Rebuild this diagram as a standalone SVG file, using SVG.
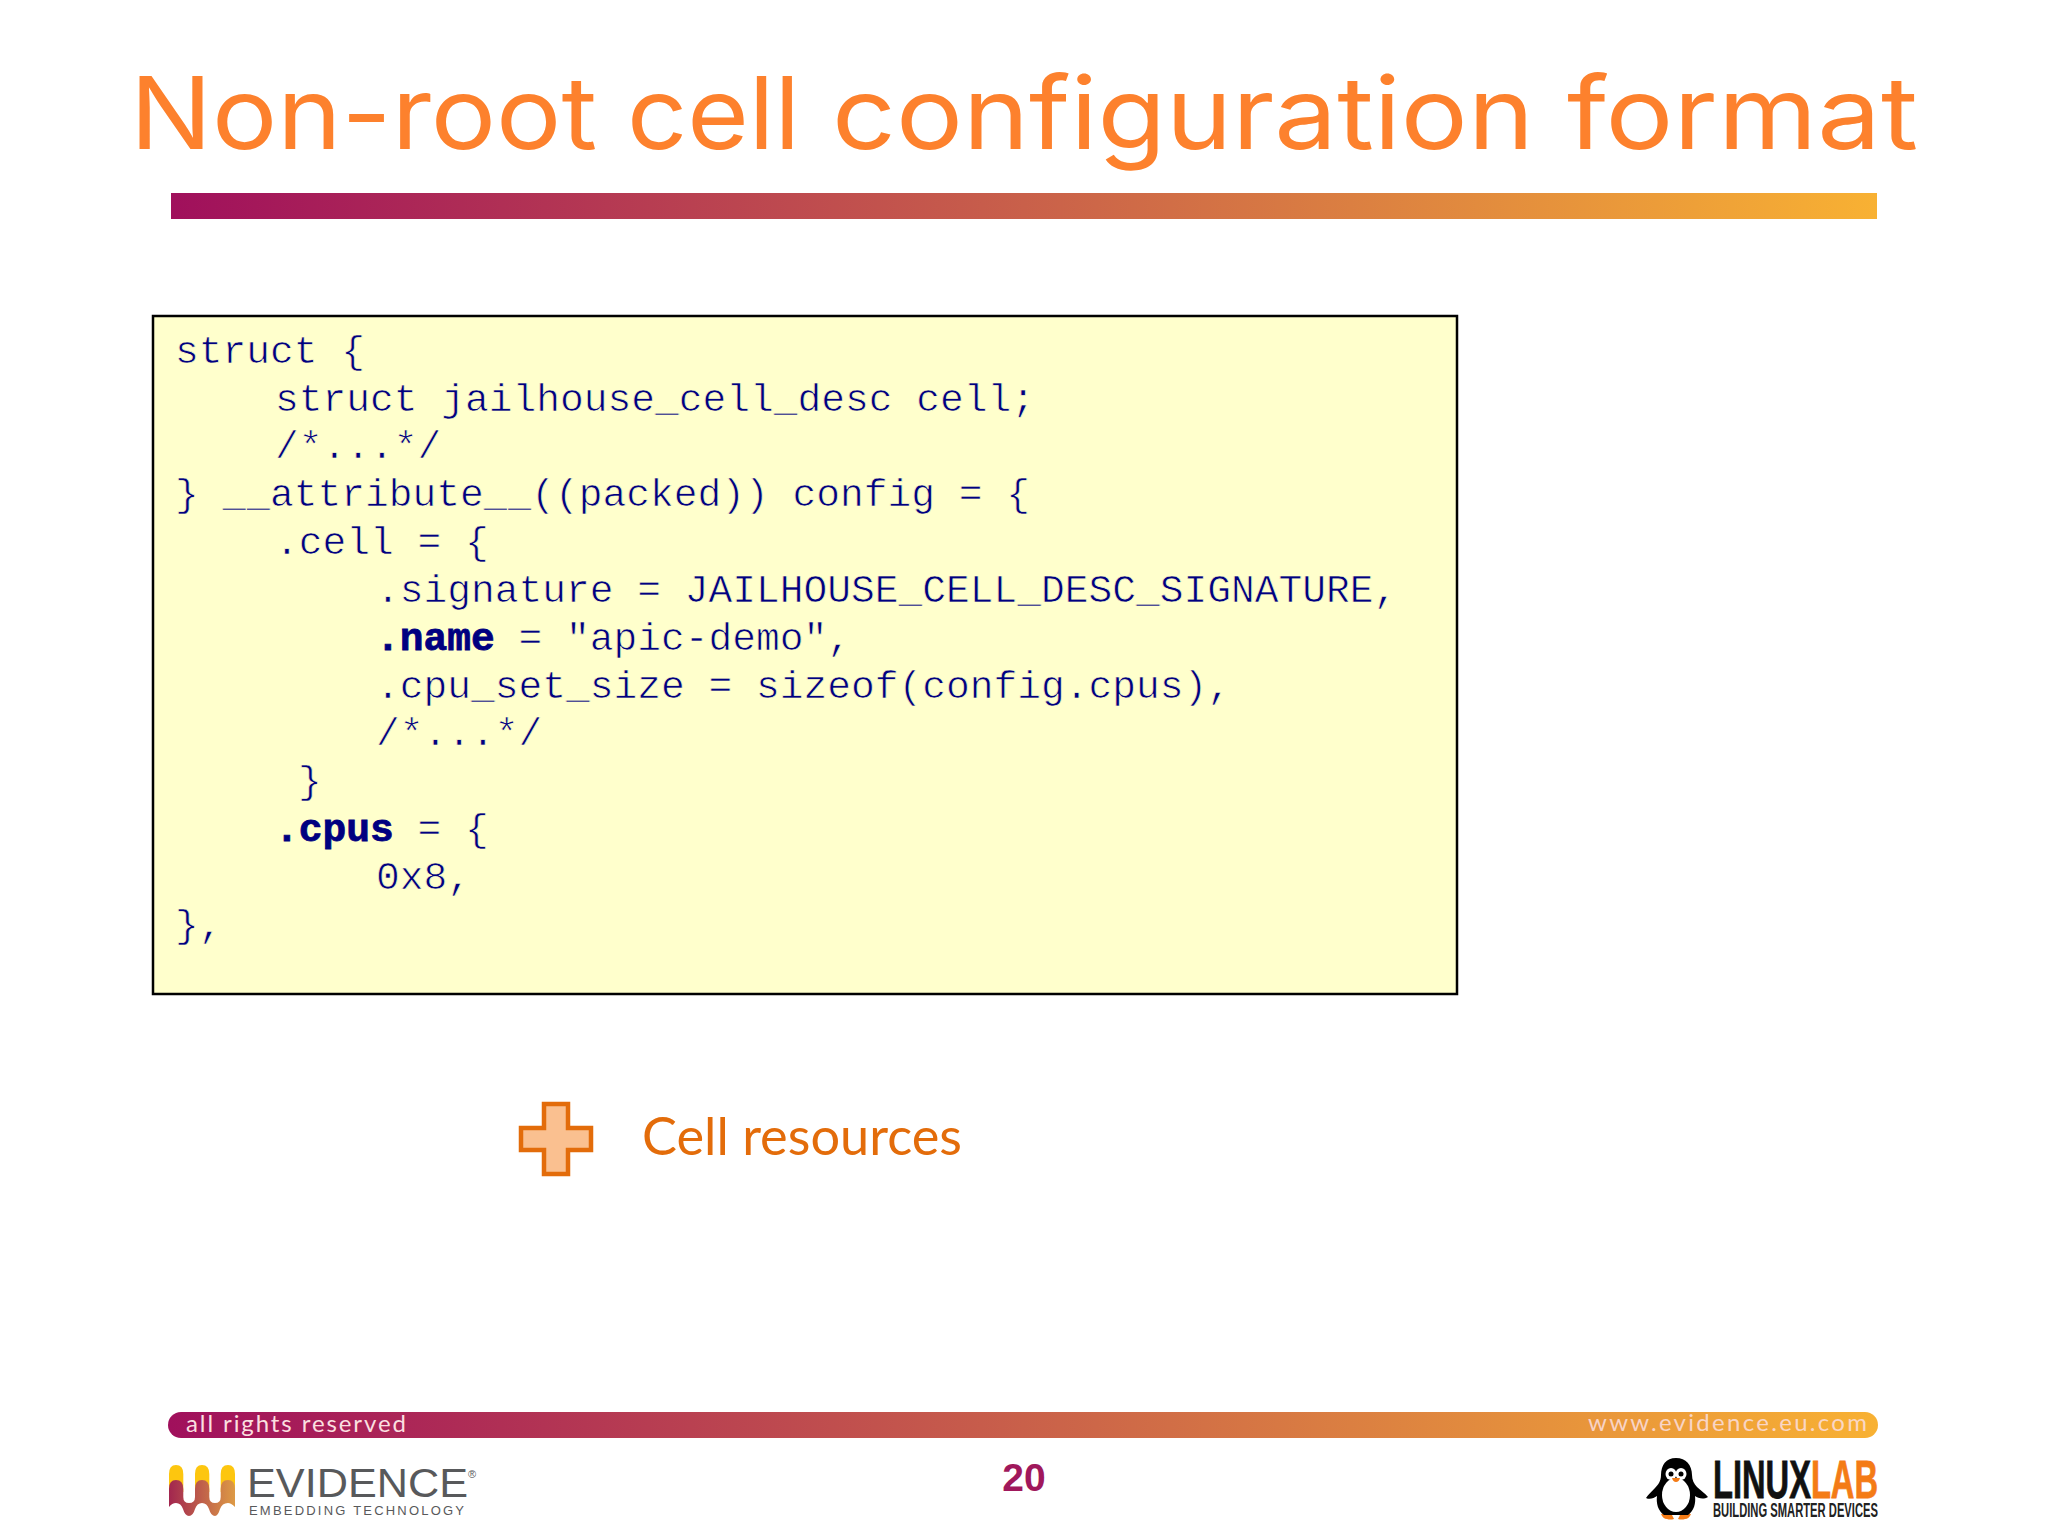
<svg xmlns="http://www.w3.org/2000/svg" width="2048" height="1536" viewBox="0 0 2048 1536">
<style>
.code{font-family:"Liberation Mono",monospace;font-size:39.6px;fill:#000080;stroke:#ffffcc;stroke-width:.7px;white-space:pre}
.b{font-weight:700;stroke:#000080;stroke-width:.8px}
.foot{font-family:"Lato","Liberation Sans",sans-serif;fill:#fbdfe0;letter-spacing:1px}
.grey{font-family:"Liberation Sans",sans-serif;fill:#58595b}
.cond{font-family:"Liberation Sans",sans-serif;font-weight:700}
</style>
<defs>
<linearGradient id="bar" x1="0" x2="1" y1="0" y2="0"><stop offset="0" stop-color="#a0105c"/><stop offset=".5" stop-color="#c9604a"/><stop offset="1" stop-color="#f8b133"/></linearGradient>
<linearGradient id="wave" x1="0" x2="1" y1="0" y2="0"><stop offset="0" stop-color="#a2264f"/><stop offset="1" stop-color="#dd9a45"/></linearGradient>
</defs>
<rect width="2048" height="1536" fill="#fff"/>
<g id="title">
<text y="149" font-family="Inter,'Open Sans',sans-serif" font-size="100" fill="#fd812d" lengthAdjust="spacingAndGlyphs"><tspan x="130" textLength="467" lengthAdjust="spacingAndGlyphs">Non-root</tspan> <tspan x="627" textLength="173" lengthAdjust="spacingAndGlyphs">cell</tspan> <tspan x="832" textLength="702" lengthAdjust="spacingAndGlyphs">configuration</tspan> <tspan x="1567" textLength="351" lengthAdjust="spacingAndGlyphs">format</tspan></text>
<rect x="171" y="193" width="1706" height="26" fill="url(#bar)"/>
</g>
<g id="code-box">
<rect x="153" y="316" width="1304" height="678" fill="#ffffcc" stroke="#000" stroke-width="2.5"/>
<text class="code" x="175" y="363">struct {</text>
<text class="code" x="275" y="411">struct jailhouse_cell_desc cell;</text>
<text class="code" x="275" y="458">/*...*/</text>
<text class="code" x="175" y="506">} __attribute__((packed)) config = {</text>
<text class="code" x="275" y="554">.cell = {</text>
<text class="code" x="376" y="602">.signature = JAILHOUSE_CELL_DESC_SIGNATURE,</text>
<text class="code" x="376" y="650"><tspan class="b">.name</tspan> = "apic-demo",</text>
<text class="code" x="376" y="698">.cpu_set_size = sizeof(config.cpus),</text>
<text class="code" x="376" y="745">/*...*/</text>
<text class="code" x="298" y="793">}</text>
<text class="code" x="275" y="841"><tspan class="b">.cpus</tspan> = {</text>
<text class="code" x="376" y="889">0x8,</text>
<text class="code" x="175" y="937">},</text>
</g>
<g id="cell-resources">
<path d="M544 1104H568V1128H591V1150H568V1174H544V1150H521V1128H544Z" fill="#fac090" stroke="#e36c0a" stroke-width="4.5"/>
<text x="642" y="1155" font-family="Lato,sans-serif" font-size="52" fill="#e36c0a" textLength="320" lengthAdjust="spacingAndGlyphs">Cell resources</text>
</g>
<g id="footer-bar">
<rect x="168" y="1412" width="1710" height="26" rx="13" fill="url(#bar)"/>
<text class="foot" x="186" y="1432" font-size="24" textLength="221">all rights reserved</text>
<text class="foot" x="1588" y="1431" font-size="24" textLength="280" fill-opacity=".85">www.evidence.eu.com</text>
</g>
<g id="evidence-logo">
<path d="M169 1492V1474Q169 1465 176 1465Q183.300 1465 183.300 1474V1492ZM195 1492V1474Q195 1465 202 1465Q209.300 1465 209.300 1474V1492ZM220.700 1492V1474Q220.700 1465 228 1465Q235 1465 235 1474V1492Z" fill="#fdc60f"/>
<path d="M169 1507V1489Q169 1480 176 1480Q183.300 1480 183.300 1489V1497Q183.300 1503 189 1503Q195 1503 195 1497V1489Q195 1480 202 1480Q209.300 1480 209.300 1489V1497Q209.300 1503 215 1503Q220.700 1503 220.700 1497V1489Q220.700 1480 228 1480Q235 1480 235 1489V1507Q231 1503 228 1503Q222 1503 220 1509Q218 1516 215 1516Q211 1516 209 1509Q207 1503 202 1503Q197 1503 195 1509Q193 1516 189 1516Q185 1516 183 1509Q181 1503 176 1503Q172 1503 169 1507Z" fill="url(#wave)"/>
<text class="grey" x="247" y="1497" font-size="41" textLength="221" lengthAdjust="spacingAndGlyphs">EVIDENCE</text>
<text class="grey" x="472" y="1478" font-size="11" text-anchor="middle">®</text>
<text class="grey" x="249" y="1515" font-size="13" textLength="215" fill="#77787b">EMBEDDING TECHNOLOGY</text>
</g>
<g id="page-number">
<text x="1024" y="1491" text-anchor="middle" font-family="'Liberation Sans',sans-serif" font-weight="700" font-size="39" fill="#a0185c">20</text>
</g>
<g id="linuxlab-logo">
<path d="M1661 1514Q1667 1512 1672 1515L1674 1519Q1670 1520 1667 1519Q1663 1519 1661 1514ZM1691 1514Q1685 1512 1680 1515L1678 1519Q1682 1520 1685 1519Q1689 1519 1691 1514Z" fill="#f47b16"/>
<path d="M1676 1458C1666 1458 1661 1465 1661 1475C1661 1481 1658 1485 1655 1488C1652 1491 1648 1495 1646 1498C1650 1500 1654 1498 1657 1496C1656 1503 1658 1511 1664 1515L1688 1515C1694 1511 1696 1503 1695 1496C1698 1498 1703 1500 1708 1497C1705 1493 1700 1490 1697 1487C1694 1484 1692 1480 1692 1475C1692 1465 1686 1458 1676 1458Z" fill="#000"/>
<ellipse cx="1676" cy="1495" rx="14" ry="17" fill="#fff"/>
<ellipse cx="1671" cy="1474" rx="5.500" ry="6" fill="#fff"/>
<ellipse cx="1681" cy="1474" rx="5.500" ry="6" fill="#fff"/>
<circle cx="1671" cy="1474" r="2.500" fill="#000"/>
<circle cx="1681" cy="1474" r="2.500" fill="#000"/>
<path d="M1672 1478H1680Q1679 1482 1676 1482Q1673 1482 1672 1478Z" fill="#f47b16"/>
<text class="cond" x="1713" y="1498" font-size="53" textLength="165" lengthAdjust="spacingAndGlyphs"><tspan fill="#111" stroke="#111" stroke-width=".8">LINUX</tspan><tspan fill="#f47b16" stroke="#f47b16" stroke-width=".8">LAB</tspan></text>
<text class="cond" x="1713" y="1517" font-size="21" fill="#222" textLength="165" lengthAdjust="spacingAndGlyphs">BUILDING SMARTER DEVICES</text>
</g>
</svg>
